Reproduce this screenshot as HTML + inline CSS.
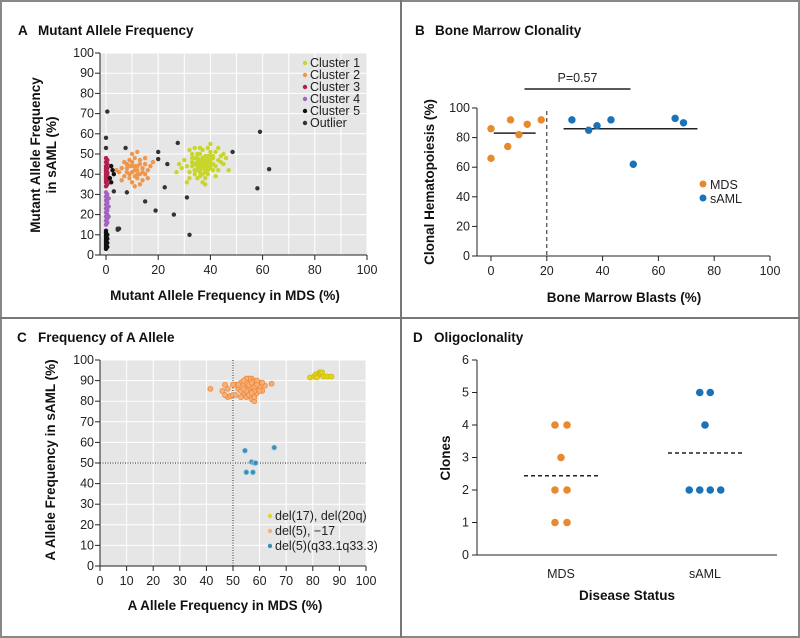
<!DOCTYPE html>
<html><head><meta charset="utf-8"><style>
body{margin:0;background:#fff}
svg{display:block;font-family:"Liberation Sans",sans-serif}
.t{font-size:12.5px;fill:#222}
.b{font-weight:bold;font-size:13.5px;fill:#111}
</style></head><body>
<svg id="s" width="800" height="638" viewBox="0 0 800 638">
<rect x="1" y="1" width="798" height="636" fill="#fff" stroke="#888" stroke-width="2"/>
<line x1="401" y1="0" x2="401" y2="638" stroke="#777" stroke-width="2"/>
<line x1="0" y1="318" x2="800" y2="318" stroke="#777" stroke-width="2"/>
</svg>
<script>
// ---------- Panel A data ----------
const aCluster1=[[37,45],[35,44],[39,46],[36,47],[38,43],[40,45],[34,42],[41,48],[36,41],[38,49],[33,46],[42,44],[35,50],[39,40],[37,52],[31,44],[43,47],[36,39],[40,51],[34,48],[38,46],[32,41],[44,49],[37,43],[35,46],[41,42],[39,53],[33,50],[36,44],[40,47],[30,47],[42,51],[38,38],[34,45],[45,50],[37,48],[35,38],[39,44],[41,45],[36,53],[28,45],[46,48],[32,52],[38,41],[40,43],[37,36],[34,40],[43,42],[39,49],[35,42],[36,46],[38,47],[29,43],[44,46],[33,44],[40,55],[31,36],[42,39],[36,50],[38,44],[47,42],[27,41],[37,46],[35,48],[41,49],[39,42],[34,53],[32,38],[45,45],[38,35],[36,43],[40,49],[37,40],[43,53],[33,48],[36,45],[38,45],[37,44],[39,47],[35,45],[40,44],[37,47],[36,42],[38,42],[39,45]];
const aCluster2=[[11,42],[9,44],[13,40],[10,46],[12,38],[8,41],[14,43],[11,48],[7,39],[15,45],[10,36],[12,44],[9,40],[13,47],[16,42],[6,43],[11,39],[14,37],[10,50],[8,45],[12,42],[17,44],[5,41],[13,35],[9,47],[11,44],[15,40],[7,46],[10,41],[12,51],[4,42],[16,38],[9,38],[13,45],[11,34],[18,46],[8,43],[14,41],[10,44],[12,40],[6,37],[15,48]];
const aCluster3=[[0,34],[0,36],[0,38],[0,40],[0,42],[0,44],[0,46],[0,48],[0.5,35],[0.5,37],[0.5,39],[0.5,41],[0.5,43],[0.5,45],[0.5,47],[0,39],[0,41],[0.5,40],[0,43],[0,37]];
const aCluster4=[[0,15],[0,17],[0,19],[0,21],[0,23],[0,25],[0,27],[0,29],[0,31],[0.5,16],[0.5,18],[0.5,20],[0.5,22],[0.5,24],[0.5,26],[0.5,28],[0.5,30],[1,24],[1,19],[1,28]];
const aCluster5=[[0,3],[0,4],[0,5],[0,6],[0,7],[0,8],[0,9],[0,10],[0,11],[0,12],[0.5,4],[0.5,6],[0.5,8],[0.5,10],[2,36],[2.5,42],[2,44],[3,40],[1.5,38]];
const aOutlier=[[0.5,71],[0,58],[0,53],[7.5,53],[27.5,55.5],[20,51],[20,47.5],[23.5,45],[48.5,51],[59,61],[62.5,42.5],[58,33],[22.5,33.5],[31,28.5],[3,31.5],[8,31],[15,26.5],[19,22],[26,20],[32,10],[4.5,13],[5,13],[4.5,12.5]];
const aTicks=[0,10,20,30,40,50,60,70,80,90,100];
const aXTicks=[0,20,40,60,80,100];
const aLegend=["Cluster 1","Cluster 2","Cluster 3","Cluster 4","Cluster 5","Outlier"];
// ---------- Panel B data ----------
const bMDS=[[0,86],[0,66],[6,74],[7,92],[10,82],[13,89],[18,92]];
const bSAML=[[29,92],[35,85],[38,88],[43,92],[51,62],[66,93],[69,90]];
const bMedians=[[1,16,83],[26,74,86]];
const bYTicks=[0,20,40,60,80,100];
const bXTicks=[0,20,40,60,80,100];
// ---------- Panel C data ----------
const cYellow=[[79,91.5],[80.5,92],[81,93],[82,92.5],[82.5,94],[83,93.5],[83.5,94],[84,92],[85.5,92],[87,92],[81.5,91.5]];
const cOrange=[[41.5,86],[46,85],[47,88],[48,82],[49,82.5],[50,83],[64.5,88.5],[51,88],[52,86],[53,89],[54,84],[55,87],[56,90],[57,85],[58,88],[59,86],[60,89],[55,82],[57,81],[58,80],[54,88],[56,86],[57,91],[58,90],[59,84],[60,87],[61,85],[62,87.5],[53,85],[55,89],[56,83],[57,87],[58,85],[59,90],[55,85],[56,88],[57,89],[58,87],[54,86],[53,82],[52,88],[51,83],[60,85],[61,89],[56,91],[55,91],[57,84],[59,88],[58,82],[54,90],[50,88],[47,83],[48,86]];
const cBlue=[[54.5,56],[65.5,57.5],[57,50.5],[58,50],[58.5,50],[55,45.5],[57.5,45.5]];
const cTicks=[0,10,20,30,40,50,60,70,80,90,100];
const cLegend=["del(17), del(20q)","del(5), \u221217","del(5)(q33.1q33.3)"];
// ---------- Panel D data ----------
const dMDS=[[-0.5,4],[0.5,4],[0,3],[-0.5,2],[0.5,2],[-0.5,1],[0.5,1]];
const dSAML=[[-0.5,5],[0.5,5],[0,4],[-1.5,2],[-0.5,2],[0.5,2],[1.5,2]];
const dMedians=[2.44,3.14];
const dYTicks=[0,1,2,3,4,5,6];
const dCats=["MDS","sAML"];

const S=document.getElementById('s');
const NS='http://www.w3.org/2000/svg';
function mk(t,a,txt){const e=document.createElementNS(NS,t);for(const k in a)e.setAttribute(k,a[k]);if(txt!=null)e.textContent=txt;S.appendChild(e);return e;}

// ===== Panel A =====
const ax=v=>106+v*2.61, ay=v=>255-v*2.02;
let e=mk('text',{x:18,y:35,class:'b','font-size':'15'},'A');


e=mk('text',{x:38,y:35,class:'b'},'Mutant Allele Frequency');


e=mk('rect',{x:100,y:53,width:267,height:202,fill:'#e6e6e6'});


aTicks.forEach(v=>{
 e=mk('line',{x1:100,x2:367,y1:ay(v),y2:ay(v),stroke:'#fff','stroke-width':1});
 
 
 e=mk('line',{x1:ax(v),x2:ax(v),y1:53,y2:255,stroke:'#fff','stroke-width':1});
 
 
 e=mk('line',{x1:95,x2:100,y1:ay(v),y2:ay(v),stroke:'#222'});
 
 
 e=mk('text',{x:94,y:ay(v)+4,class:'t','text-anchor':'end'},v);
 
 
});
aXTicks.forEach(v=>{
 e=mk('line',{x1:ax(v),x2:ax(v),y1:255,y2:260,stroke:'#222'});
 
 
 e=mk('text',{x:ax(v),y:274,class:'t','text-anchor':'middle'},v);
 
 
});
e=mk('line',{x1:100,x2:100,y1:53,y2:255,stroke:'#222'});


e=mk('line',{x1:100,x2:367,y1:255,y2:255,stroke:'#222'});


e=mk('text',{x:225,y:300,class:'b','text-anchor':'middle'},'Mutant Allele Frequency in MDS (%)');


e=mk('text',{transform:'translate(40,155) rotate(-90)',class:'b','text-anchor':'middle'},'Mutant Allele Frequency');


e=mk('text',{transform:'translate(56,155) rotate(-90)',class:'b','text-anchor':'middle'},'in sAML (%)');


const aSeries=[[aCluster1,'#c8d62b','cluster-1'],[aCluster2,'#f0964a','cluster-2'],[aCluster3,'#b51c50','cluster-3'],[aCluster4,'#a463c0','cluster-4'],[aCluster5,'#111','cluster-5'],[aOutlier,'#333','outlier']];
aSeries.forEach(([d,c,n])=>d.forEach(p=>{
 e=mk('circle',{cx:ax(p[0]),cy:ay(p[1]),r:2.2,fill:c});
 
 
}));
aLegend.forEach((l,i)=>{
 e=mk('circle',{cx:305,cy:63+i*12,r:2.2,fill:aSeries[i][1]});
 
 
 e=mk('text',{x:310,y:67+i*12,class:'t'},l);
 
 
});

// ===== Panel B =====
const bx=v=>491+v*2.79, by=v=>256-v*1.48;
e=mk('text',{x:415,y:35,class:'b','font-size':'15'},'B');


e=mk('text',{x:435,y:35,class:'b'},'Bone Marrow Clonality');


bYTicks.forEach(v=>{
 e=mk('line',{x1:472,x2:477,y1:by(v),y2:by(v),stroke:'#222'});
 
 
 e=mk('text',{x:470,y:by(v)+4,class:'t','text-anchor':'end'},v);
 
 
});
bXTicks.forEach(v=>{
 e=mk('line',{x1:bx(v),x2:bx(v),y1:256,y2:261,stroke:'#222'});
 
 
 e=mk('text',{x:bx(v),y:275,class:'t','text-anchor':'middle'},v);
 
 
});
e=mk('line',{x1:477,x2:477,y1:by(100),y2:256,stroke:'#222'});


e=mk('line',{x1:477,x2:770,y1:256,y2:256,stroke:'#222'});


e=mk('line',{x1:bx(20),x2:bx(20),y1:by(98),y2:256,stroke:'#222','stroke-dasharray':'4,3'});


e=mk('line',{x1:bx(12),x2:bx(50),y1:89,y2:89,stroke:'#222','stroke-width':1.5});


e=mk('text',{x:bx(31),y:82,class:'t','text-anchor':'middle','font-size':'13'},'P=0.57');


bMedians.forEach(m=>{
 e=mk('line',{x1:bx(m[0]),x2:bx(m[1]),y1:by(m[2]),y2:by(m[2]),stroke:'#222','stroke-width':1.5});
 
 
});
bMDS.forEach(p=>{
 e=mk('circle',{cx:bx(p[0]),cy:by(p[1]),r:3.7,fill:'#e8892e'});
 
 
});
bSAML.forEach(p=>{
 e=mk('circle',{cx:bx(p[0]),cy:by(p[1]),r:3.7,fill:'#1a72b8'});
 
 
});
[['MDS','#e8892e'],['sAML','#1a72b8']].forEach(([l,c],i)=>{
 e=mk('circle',{cx:703,cy:184+i*14,r:3.5,fill:c});
 
 
 e=mk('text',{x:710,y:189+i*14,class:'t'},l);
 
 
});
e=mk('text',{x:624,y:302,class:'b','text-anchor':'middle'},'Bone Marrow Blasts (%)');


e=mk('text',{transform:'translate(434,182) rotate(-90)',class:'b','text-anchor':'middle'},'Clonal Hematopoiesis (%)');



// ===== Panel C =====
const cx=v=>100+v*2.66, cy=v=>566-v*2.06;
e=mk('text',{x:17,y:342,class:'b','font-size':'15'},'C');


e=mk('text',{x:38,y:342,class:'b'},'Frequency of A Allele');


e=mk('rect',{x:100,y:360,width:266,height:206,fill:'#e6e6e6'});


cTicks.forEach(v=>{
 e=mk('line',{x1:100,x2:366,y1:cy(v),y2:cy(v),stroke:'#fff'});
 
 
 e=mk('line',{x1:cx(v),x2:cx(v),y1:360,y2:566,stroke:'#fff'});
 
 
 e=mk('line',{x1:95,x2:100,y1:cy(v),y2:cy(v),stroke:'#222'});
 
 
 e=mk('text',{x:94,y:cy(v)+4,class:'t','text-anchor':'end'},v);
 
 
 e=mk('line',{x1:cx(v),x2:cx(v),y1:566,y2:571,stroke:'#222'});
 
 
 e=mk('text',{x:cx(v),y:585,class:'t','text-anchor':'middle'},v);
 
 
});
e=mk('line',{x1:100,x2:100,y1:360,y2:566,stroke:'#222'});


e=mk('line',{x1:100,x2:366,y1:566,y2:566,stroke:'#222'});


e=mk('line',{x1:cx(50),x2:cx(50),y1:360,y2:566,stroke:'#222','stroke-dasharray':'1,1.5'});


e=mk('line',{x1:100,x2:366,y1:cy(50),y2:cy(50),stroke:'#222','stroke-dasharray':'1,1.5'});


const cSeries=[[cYellow,'#e3d51f','#c9bb10','del17-del20q'],[cOrange,'#f5b07a','#ee8a3c','del5-minus17'],[cBlue,'#3b8cb5','#8cc4dd','del5q33']];
cSeries.forEach(([d,f,s,n])=>d.forEach(p=>{
 e=mk('circle',{cx:cx(p[0]),cy:cy(p[1]),r:2.5,fill:f,stroke:s,'stroke-width':0.8});
 
 
}));
cLegend.forEach((l,i)=>{
 e=mk('circle',{cx:270,cy:516+i*15,r:2.2,fill:cSeries[i][0]===cOrange?'#f5b07a':cSeries[i][1]});
 
 
 e=mk('text',{x:275,y:520+i*15,class:'t'},l);
 
 
});
e=mk('text',{x:225,y:610,class:'b','text-anchor':'middle'},'A Allele Frequency in MDS (%)');


e=mk('text',{transform:'translate(55,460) rotate(-90)',class:'b','text-anchor':'middle'},'A Allele Frequency in sAML (%)');



// ===== Panel D =====
const dCenters=[561,705], dStep=10.5;
const dy=v=>555-v*32.5;
e=mk('text',{x:413,y:342,class:'b','font-size':'15'},'D');


e=mk('text',{x:434,y:342,class:'b'},'Oligoclonality');


dYTicks.forEach(v=>{
 e=mk('line',{x1:472,x2:477,y1:dy(v),y2:dy(v),stroke:'#222'});
 
 
 e=mk('text',{x:469,y:dy(v)+4,class:'t','text-anchor':'end'},v);
 
 
});
e=mk('line',{x1:477,x2:477,y1:dy(6),y2:555,stroke:'#222'});


e=mk('line',{x1:477,x2:777,y1:555,y2:555,stroke:'#222'});


dCats.forEach((c,i)=>{
 e=mk('text',{x:dCenters[i],y:578,class:'t','text-anchor':'middle','font-size':'13'},c);
 
 
 e=mk('line',{x1:dCenters[i]-37,x2:dCenters[i]+37,y1:dy(dMedians[i]),y2:dy(dMedians[i]),stroke:'#222','stroke-width':1.5,'stroke-dasharray':'4,3'});
 
 
});
[[dMDS,'#e8892e',0,'mds'],[dSAML,'#1a72b8',1,'saml']].forEach(([d,c,i,n])=>d.forEach(p=>{
 e=mk('circle',{cx:dCenters[i]+p[0]*dStep*(i?1:1.15),cy:dy(p[1]),r:3.8,fill:c});
 
 
}));
e=mk('text',{x:627,y:600,class:'b','text-anchor':'middle'},'Disease Status');


e=mk('text',{transform:'translate(450,458) rotate(-90)',class:'b','text-anchor':'middle'},'Clones');


</script>
</body></html>
